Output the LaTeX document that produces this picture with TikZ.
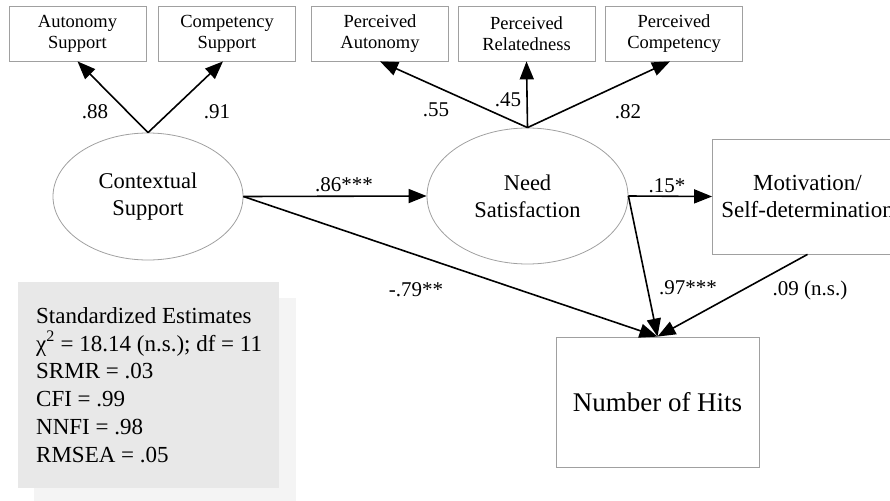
\documentclass[tikz,border=0pt]{standalone}
\usepackage{fontspec}
\setmainfont{Liberation Serif}
\usetikzlibrary{arrows.meta,shapes.geometric,calc}
\definecolor{boxline}{RGB}{160,160,160}
\definecolor{statfill}{RGB}{232,232,232}
\definecolor{shadowfill}{RGB}{244,244,244}
\tikzset{
  smallbox/.style={draw=boxline, line width=0.8pt, minimum width=137pt, minimum height=55pt, inner sep=0pt, align=center, font=\fontsize{18.5}{21}\selectfont},
  latent/.style={draw=boxline, line width=0.8pt, ellipse, inner sep=0pt, align=center, font=\fontsize{22.5}{27}\selectfont},
  bigbox/.style={draw=boxline, line width=0.8pt, inner sep=0pt, align=center},
  path/.style={line width=1.6pt, -{Triangle[length=18pt,width=14pt]}},
  coef/.style={font=\fontsize{21}{24}\selectfont, inner sep=0pt},
  statline/.style={anchor=base west, inner sep=0pt, font=\fontsize{23}{28}\selectfont}
}
\begin{document}
\begin{tikzpicture}[x=1pt,y=-1pt]
\useasboundingbox (0,0) rectangle (890,500);
% stats box with shadow
\fill[shadowfill] (34,298) rectangle (296,502);
\fill[statfill] (18,282) rectangle (279,488);
\node[statline] (s1) at (36,323) {Standardized Estimates};
\node[statline] (s2) at (36,351) {χ\textsuperscript{2} = 18.14 (n.s.); df = 11};
\node[statline] (s3) at (36,378) {SRMR = .03};
\node[statline] (s4) at (36,406) {CFI = .99};
\node[statline] (s5) at (36,434) {NNFI = .98};
\node[statline] (s6) at (36,462) {RMSEA = .05};
% indicator boxes
\node[smallbox] (aut) at (77.5,33.5) {Autonomy\\Support};
\node[smallbox] (comp) at (227,33.5) {Competency\\Support};
\node[smallbox] (paut) at (380,33.5) {Perceived\\Autonomy};
\node[smallbox] (prel) at (526.5,33.5) {Perceived\\Relatedness};
\node[smallbox] (pcomp) at (674,33.5) {Perceived\\Competency};
% latent variables
\node[latent, minimum width=190pt, minimum height=127pt] (ctx) at (148,196.5) {Contextual\\Support};
\node[latent, minimum width=201pt, minimum height=136pt] (need) at (527.5,196) {Need\\Satisfaction};
% observed
\node[bigbox, minimum width=190pt, minimum height=115pt, font=\fontsize{23}{27}\selectfont] (mot) at (807.5,196.5) {Motivation/\\Self-determination};
\node[bigbox, minimum width=203pt, minimum height=130pt, font=\fontsize{27}{30}\selectfont] (hits) at (657.5,402) {Number of Hits};
% paths
\draw[path] (ctx.north) -- (aut.south);
\draw[path] (ctx.north) -- ($(comp.south)+(-4,0)$);
\draw[path] (need.north) -- (paut.south);
\draw[path] (need.north) -- (prel.south);
\draw[path] (need.north) -- ($(pcomp.south)+(-4,0)$);
\draw[path] (ctx.east) -- (need.west);
\draw[path] (need.east) -- (mot.west);
\draw[path] (ctx.east) -- (hits.north);
\draw[path] (need.east) -- (hits.north);
\draw[path] (mot.south) -- (hits.north);
% coefficients
\node[coef] (c1) at (95,112) {.88};
\node[coef] (c2) at (217,112) {.91};
\node[coef] (c3) at (436,110) {.55};
\node[coef] (c4) at (508,100) {.45};
\node[coef] (c5) at (628,112) {.82};
\node[coef] (c6) at (344,185) {.86***};
\node[coef] (c7) at (667,186) {.15*};
\node[coef] (c8) at (416,290) {-.79**};
\node[coef] (c9) at (688,288) {.97***};
\node[coef] (c10) at (810,290) {.09 (n.s.)};
\end{tikzpicture}
\end{document}
